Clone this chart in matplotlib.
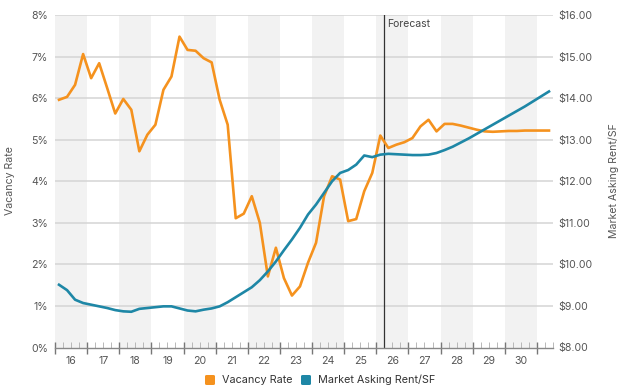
import matplotlib
matplotlib.use("Agg")
import matplotlib.pyplot as plt
from matplotlib.transforms import blended_transform_factory
from matplotlib.patches import FancyBboxPatch
import numpy as np

plt.rcParams['font.family'] = ['Inter', 'DejaVu Sans']

# Quarterly data, 2016Q1 .. 2031Q2
vacancy = [5.96, 6.03, 6.32, 7.06, 6.48, 6.84, 6.24, 5.63, 5.98, 5.72,
           4.72, 5.12, 5.36, 6.20, 6.52, 7.48, 7.16, 7.14, 6.96, 6.86,
           5.96, 5.36, 3.11, 3.22, 3.64, 3.00, 1.71, 2.40, 1.67, 1.25,
           1.47, 2.04, 2.52, 3.64, 4.12, 4.04, 3.04, 3.09, 3.76, 4.20,
           5.10, 4.80, 4.88, 4.94, 5.04, 5.32, 5.48, 5.20, 5.38, 5.38,
           5.34, 5.29, 5.24, 5.20, 5.19, 5.20, 5.21, 5.21, 5.22, 5.22,
           5.22, 5.22]
rent = [9.51, 9.38, 9.15, 9.07, 9.03, 8.99, 8.95, 8.90, 8.87, 8.86,
        8.93, 8.95, 8.97, 8.99, 8.99, 8.94, 8.89, 8.87, 8.91, 8.94,
        8.99, 9.09, 9.21, 9.33, 9.45, 9.62, 9.83, 10.07, 10.34, 10.60,
        10.88, 11.20, 11.44, 11.72, 12.00, 12.20, 12.27, 12.40, 12.62, 12.58,
        12.64, 12.66, 12.65, 12.64, 12.63, 12.63, 12.64, 12.68, 12.75, 12.83,
        12.93, 13.03, 13.14, 13.25, 13.36, 13.47, 13.58, 13.69, 13.80, 13.92,
        14.04, 14.16]
year_labels = ['16', '17', '18', '19', '20', '21', '22', '23', '24', '25',
               '26', '27', '28', '29', '30']
vac_ticks = [0, 1, 2, 3, 4, 5, 6, 7, 8]
rent_ticks = [8, 9, 10, 11, 12, 13, 14, 15, 16]
forecast_q = 41

ORANGE = '#F5921E'
BLUE = '#1E87A6'
GRID = '#d4d4d4'
TXT = '#555555'

W, H = 619, 389
fig = plt.figure(figsize=(W / 100, H / 100), dpi=100)
ax = fig.add_axes([55 / W, 1 - 347.5 / H, (553 - 55) / W, (347.5 - 15) / H])
ax2 = ax.twinx()

n = len(vacancy)
x = np.arange(n) + 0.5
nq = 62

# shading for alternating years
for i in range(0, len(year_labels), 2):
    ax.axvspan(4 * i, 4 * i + 4, color='#f2f2f2', lw=0, zorder=0)

ax.set_xlim(0, nq)
ax.set_ylim(0, 8)
ax2.set_ylim(8, 16)
ax.set_yticks(vac_ticks)
ax.set_yticklabels([f'{v}%' for v in vac_ticks])
ax2.set_yticks(rent_ticks)
ax2.set_yticklabels([f'${v:.2f}' for v in rent_ticks])

for v in vac_ticks[1:]:
    ax.axhline(v, color=GRID, lw=1.1, zorder=1)

ax.axvline(forecast_q, color='#333333', lw=0.9, zorder=2)
ax.text(forecast_q + 0.3, 7.9, 'Forecast', fontsize=7.5, color='#444444',
        va='top', ha='left')

ax.plot(x, vacancy, color=ORANGE, lw=1.9, zorder=3)
ax2.plot(x, rent, color=BLUE, lw=1.9, zorder=3)

for a in (ax, ax2):
    for s in a.spines.values():
        s.set_visible(False)
ax.spines['bottom'].set_visible(True)
ax.spines['bottom'].set_color('#888888')
ax.spines['bottom'].set_linewidth(1.0)

ax.tick_params(axis='y', length=0, labelsize=7.6, labelcolor=TXT, pad=5)
ax2.tick_params(axis='y', length=0, labelsize=7.6, labelcolor=TXT, pad=4)

ax.set_xticks(np.arange(0, 61, 4))
ax.set_xticklabels([])
ax.set_xticks(np.arange(0, nq + 1), minor=True)
ax.tick_params(axis='x', which='major', direction='inout', length=9,
               width=1.0, color='#777777')
ax.tick_params(axis='x', which='minor', direction='in', length=4,
               width=0.7, color='#b8b8b8')

trans = blended_transform_factory(ax.transData, ax.transAxes)
for i, lab in enumerate(year_labels):
    ax.text(4 * i + 2, -0.025, lab, transform=trans, ha='center', va='top',
            fontsize=7.6, color=TXT)

fig.text(10 / W, 1 - 181 / H, 'Vacancy Rate', rotation=90, ha='center',
         va='center', fontsize=7.6, color=TXT)
fig.text(614 / W, 1 - 181 / H, 'Market Asking Rent/SF', rotation=90,
         ha='center', va='center', fontsize=7.6, color=TXT)

# legend
ly = 1 - 380 / H
for (x0, col, lab) in [(205, ORANGE, 'Vacancy Rate'),
                       (301, BLUE, 'Market Asking Rent/SF')]:
    p = FancyBboxPatch((x0 / W, ly - 5 / H), 10 / W, 10 / H,
                       boxstyle='round,pad=0,rounding_size=0.003',
                       transform=fig.transFigure, color=col, lw=0)
    fig.add_artist(p)
    fig.text((x0 + 17) / W, ly, lab, ha='left', va='center', fontsize=7.8,
             color='#333333')

fig.savefig('out.png', dpi=100)
